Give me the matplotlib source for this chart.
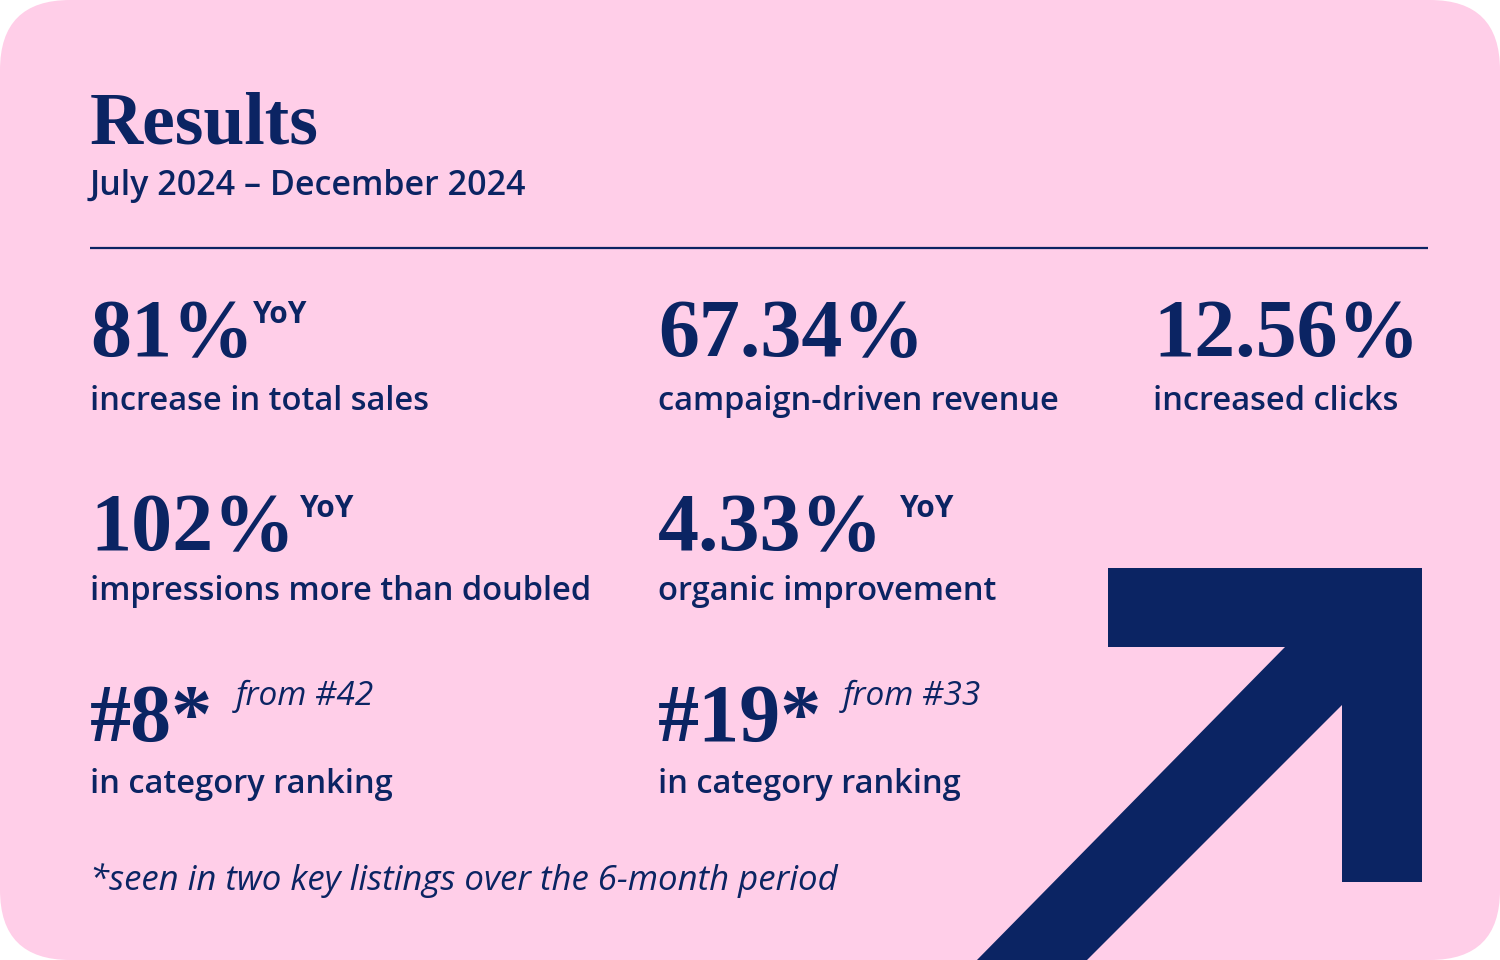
import matplotlib
matplotlib.use("Agg")
import matplotlib.pyplot as plt
from matplotlib.patches import FancyBboxPatch, Polygon

# ---- data ----
title = "Results"
subtitle = "July 2024 \u2013 December 2024"
stat_values = ["81%", "67.34%", "12.56%", "102%", "4.33%", "#8*", "#19*"]
stat_labels = ["increase in total sales", "campaign-driven revenue", "increased clicks",
               "impressions more than doubled", "organic improvement",
               "in category ranking", "in category ranking"]
stat_notes = ["YoY", "", "", "YoY", "YoY", "from #42", "from #33"]
footnote = "*seen in two key listings over the 6-month period"

NAVY = "#0B2463"
PINK = "#FFCEE8"

W, H = 1500, 960
fig = plt.figure(figsize=(15, 9.6), dpi=100)
fig.patch.set_facecolor("white")
ax = fig.add_axes([0, 0, 1, 1])
ax.set_xlim(0, W)
ax.set_ylim(H, 0)
ax.axis("off")

card = FancyBboxPatch((0, 0), W, H, boxstyle="round,pad=0,rounding_size=70",
                      facecolor=PINK, edgecolor="none", zorder=0)
ax.add_patch(card)

# arrow
arrow = Polygon([(1108, 568), (1422, 568), (1422, 882), (1342, 882), (1342, 705),
                 (1085, 962), (975, 962), (1285, 647), (1108, 647)],
                closed=True, facecolor=NAVY, edgecolor="none", zorder=1)
ax.add_patch(arrow)
arrow.set_clip_path(card)

SERIF = ["Liberation Serif", "DejaVu Serif"]
SANS = ["Open Sans", "DejaVu Sans"]

ax.text(90, 143, title, family=SERIF, weight="bold", fontsize=53, color=NAVY, va="baseline")
ax.text(90, 195, subtitle, family=SANS, weight="semibold", fontsize=24.5, color=NAVY, va="baseline")
ax.plot([90, 1428], [248, 248], color=NAVY, lw=1.6, solid_capstyle="butt")

# layout: (x, value baseline, label baseline, note x)
cols = [90, 658, 1153, 90, 658, 90, 658]
val_base = [356, 356, 356, 550, 550, 741, 741]
lab_base = [410, 410, 410, 600, 600, 793, 793]
note_x = [253, 0, 0, 300, 900, 236, 843]

for i in range(len(stat_values)):
    ax.text(cols[i], val_base[i], stat_values[i], family=SERIF, weight="bold",
            fontsize=59, color=NAVY, va="baseline")
    ax.text(cols[i], lab_base[i], stat_labels[i], family=SANS, weight="semibold",
            fontsize=23.5, color=NAVY, va="baseline")
    note = stat_notes[i]
    if note == "YoY":
        ax.text(note_x[i], val_base[i] - 33, note, family=SANS, weight="bold",
                fontsize=21.5, color=NAVY, va="baseline")
    elif note:
        ax.text(note_x[i], val_base[i] - 36, note, family=SANS, style="italic",
                fontsize=24, color=NAVY, va="baseline")

ax.text(90, 890, footnote, family=SANS, style="italic", fontsize=25, color=NAVY, va="baseline")

fig.savefig("out.png", dpi=100, facecolor="white")
